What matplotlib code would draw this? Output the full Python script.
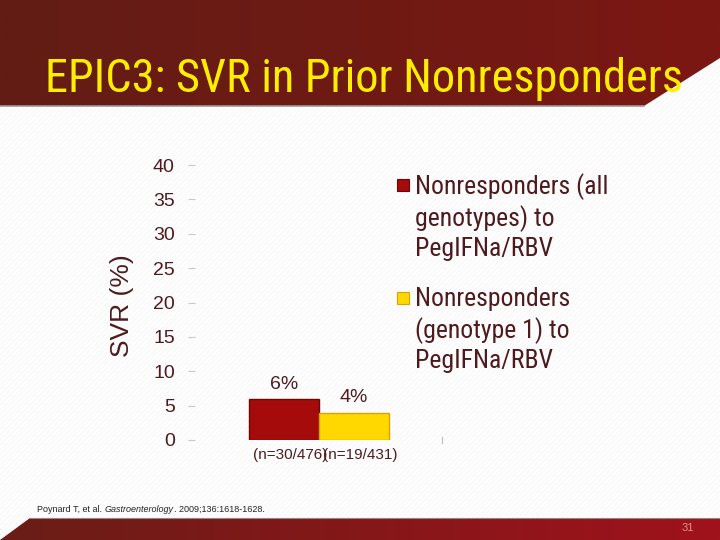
import numpy as np
import matplotlib
matplotlib.use("Agg")
import matplotlib.pyplot as plt
from matplotlib.patches import Polygon, Rectangle

# ---- data -------------------------------------------------------------
groups = ["Nonresponders (all genotypes)", "Nonresponders (genotype 1)"]
svr = [6, 4]
counts = ["(n=30/476)", "(n=19/431)"]
legend_labels = ["Nonresponders (all\ngenotypes) to\nPegIFNa/RBV",
                 "Nonresponders\n(genotype 1) to\nPegIFNa/RBV"]
yticks = [0, 5, 10, 15, 20, 25, 30, 35, 40]
title = "EPIC3: SVR in Prior Nonresponders"
ylabel = "SVR (%)"
page = "31"

# ---- styles -----------------------------------------------------------
bar_colors = ["#a50b0b", "#ffd800"]
bar_edges = ["#6e0606", "#d9a400"]
ink = "#4e1a1e"
NARROW = ["Roboto Condensed", "Liberation Sans", "DejaVu Sans"]
plt.rcParams["font.family"] = ["Liberation Sans", "DejaVu Sans"]

fig = plt.figure(figsize=(7.2, 5.4), dpi=100)

# background layer in pixel coordinates
bg = fig.add_axes([0, 0, 1, 1], zorder=0)
bg.set_xlim(0, 720)
bg.set_ylim(540, 0)
bg.axis("off")

# faint diagonal texture
for c in np.arange(0, 1300, 5):
    bg.plot([0, 720], [c, c - 720], color="#f4f4f4", lw=0.6, zorder=0)


def gradient_band(poly_pts, c_left, c_right, extent):
    poly = Polygon(poly_pts, closed=True, facecolor="none", edgecolor="none")
    bg.add_patch(poly)
    t = np.linspace(0, 1, 256)
    a = np.array(matplotlib.colors.to_rgb(c_left))
    b = np.array(matplotlib.colors.to_rgb(c_right))
    row = a[None, :] * (1 - t[:, None]) + b[None, :] * t[:, None]
    img = np.repeat(row[None, :, :], 8, axis=0)
    im = bg.imshow(img, extent=extent, aspect="auto", zorder=2, interpolation="bilinear")
    im.set_clip_path(poly)


# header band
gradient_band([(0, 0), (720, 0), (720, 58), (644, 106), (0, 106)],
              "#621d15", "#7c1713", (0, 720, 106, 0))
bg.plot([0, 644], [105.5, 105.5], color="#9a9a9a", lw=1.2, zorder=3)
# footer band
gradient_band([(0, 540), (30, 518), (720, 518), (720, 540)],
              "#6a1d16", "#a0121c", (0, 720, 540, 518))
bg.plot([30, 720], [518, 518], color="#8a8a8a", lw=0.8, zorder=3)

fig.text(45 / 720, 1 - 92 / 540, title, color="#ffee00", fontsize=33.4,
         family=NARROW, va="baseline", ha="left")

# ---- chart ------------------------------------------------------------
ax = fig.add_axes([188 / 720, 100 / 540, (442 - 188) / 720, 275 / 540], zorder=1)
ax.patch.set_alpha(0)
x = np.arange(len(svr))
ax.bar(x, svr, width=1.0, color=bar_colors, edgecolor=bar_edges, linewidth=1)
ax.set_xlim(-1.37, 2.26)
ax.set_ylim(0, 40)
ax.set_yticks(yticks)
ax.set_xticks([])
for s in ax.spines.values():
    s.set_visible(False)
ax.tick_params(axis="y", direction="in", length=5, width=0.8, color="#c8c8c8",
               pad=9.5, labelsize=14, labelcolor=ink)
ax.plot([1, 1], [-0.012, 0.012], transform=ax.transAxes, color="#bbbbbb",
        lw=0.8, clip_on=False)

for xi, v, n in zip(x, svr, counts):
    ax.text(xi, v + 0.9, f"{v}%", ha="center", va="bottom", fontsize=14, color=ink)
    ax.annotate(n, (xi, 0), xytext=(4.5, -11), textcoords="offset points",
                ha="center", va="center", fontsize=11, color=ink)

ax.set_ylabel(ylabel, fontsize=19, color=ink)
ax.yaxis.set_label_coords((134 - 188) / 254, 0.487)

# legend drawn by hand (multi-line labels, handle next to first line)
for lab, col, edge, cy in zip(legend_labels, bar_colors, bar_edges, [185, 298]):
    bg.add_patch(Rectangle((397, cy - 6), 12, 12, facecolor=col, edgecolor=edge,
                           lw=0.8, zorder=3))
    fig.text(415 / 720, 1 - (cy + 32) / 540, lab, color=ink, family=NARROW,
             fontsize=18.5, va="center", ha="left", linespacing=1.27)

# citation and page number
cite = fig.text(37 / 720, 1 - 512 / 540, "Poynard T, et al. ", fontsize=6.5,
                color="#222222", va="baseline")
an = plt.annotate("Gastroenterology", xy=(1, 0), xycoords=cite, fontsize=6.5,
                  style="italic", color="#222222", va="bottom")
plt.annotate(". 2009;136:1618-1628.", xy=(1, 0), xycoords=an, fontsize=6.5,
             color="#222222", va="bottom")
fig.text(688 / 720, 1 - 528 / 540, page, fontsize=8, color="#e09090",
         ha="center", va="center")

fig.savefig("out.png", dpi=100)
